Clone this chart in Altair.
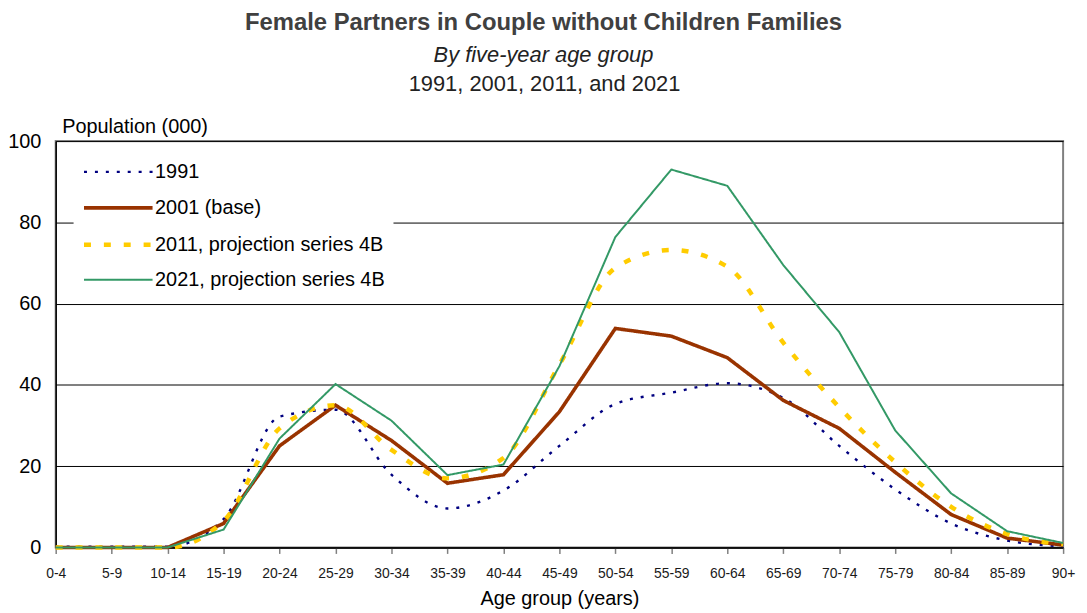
import altair as alt
import pandas as pd

ages = ["0-4", "5-9", "10-14", "15-19", "20-24", "25-29", "30-34", "35-39", "40-44",
        "45-49", "50-54", "55-59", "60-64", "65-69", "70-74", "75-79", "80-84", "85-89", "90+"]

series_names = ["1991", "2001 (base)", "2011, projection series 4B", "2021, projection series 4B"]

v1991 = [0.2, 0.2, 0.2, 7.0, 32.2, 33.9, 17.9, 9.6, 14.0, 25.0, 35.3, 38.1, 40.4, 36.8, 25.0, 14.3, 5.9, 1.7, 0.3]
v2001 = [0.0, 0.0, 0.0, 5.9, 25.0, 35.0, 26.3, 15.8, 17.9, 33.4, 53.9, 52.0, 46.7, 36.2, 29.3, 18.5, 8.1, 2.3, 0.6]
v2011 = [0.0, 0.0, 0.0, 6.5, 29.3, 35.0, 24.0, 17.0, 22.0, 45.0, 68.8, 73.2, 69.1, 50.4, 34.5, 21.0, 10.0, 3.3, 0.8]
v2021 = [0.0, 0.0, 0.0, 4.4, 26.8, 40.2, 31.2, 17.8, 20.4, 44.6, 76.4, 93.0, 89.0, 69.5, 53.0, 28.8, 13.3, 4.0, 1.1]

line_colors = ["#000080", "#993300", "#FFCC00", "#339966"]
line_dashes = [[3, 8], [1, 0], [7, 13], [1, 0]]
line_widths = [2.4, 3.6, 4.5, 2.0]
interps = ["monotone", "linear", "monotone", "linear"]

title_text = "Female Partners in Couple without Children Families"
subtitle_text = "By five-year age group"
years_text = "1991, 2001, 2011, and 2021"

rows = []
for name, vals in zip(series_names, [v1991, v2001, v2011, v2021]):
    for a, v in zip(ages, vals):
        rows.append({"age": a, "series": name, "value": v})
df = pd.DataFrame(rows)

SANS = "Liberation Sans, Arial, sans-serif"

x_enc = alt.X(
    "age:N", sort=ages,
    scale=alt.Scale(type="point", padding=0),
    axis=alt.Axis(
        title="Age group (years)", labelAngle=0, ticks=True, tickSize=6,
        tickColor="#808080", tickWidth=1.5, domainColor="#000000", domainWidth=1.5,
        labelFont=SANS, labelFontSize=14, labelColor="#1a1a1a", labelPadding=13,
        titleFont=SANS, titleFontSize=20, titleFontWeight="normal", titleColor="#000000",
        titlePadding=8, grid=False, labelOverlap=False,
    ),
)
y_enc = alt.Y(
    "value:Q",
    scale=alt.Scale(domain=[0, 100], nice=False),
    axis=alt.Axis(
        values=[0, 20, 40, 60, 80, 100], grid=True, gridColor="#000000", gridWidth=1,
        ticks=False, domainColor="#000000", domainWidth=1.5,
        labelFont=SANS, labelFontSize=20, labelColor="#000000", labelPadding=15,
        title="Population (000)", titleAngle=0, titleAlign="left", titleBaseline="middle",
        titleX=6, titleY=-15, titleFont=SANS, titleFontSize=20, titleFontWeight="normal",
        titleColor="#000000",
    ),
)
color_enc = alt.Color(
    "series:N",
    scale=alt.Scale(domain=series_names, range=line_colors),
    legend=alt.Legend(
        title=None, orient="none", legendX=18, legendY=10, fillColor="white",
        padding=8, symbolType="M-1,0H5", symbolSize=529, labelFont=SANS,
        labelFontSize=20, labelColor="#000000", rowPadding=12.7, labelOffset=46,
        labelLimit=0,
    ),
)
dash_enc = alt.StrokeDash("series:N", scale=alt.Scale(domain=series_names, range=line_dashes), legend=None)
width_enc = alt.StrokeWidth(
    "series:N",
    scale=alt.Scale(type="ordinal", domain=series_names, range=line_widths),
    legend=None,
)

layers = []
for name, interp in zip(series_names, interps):
    layers.append(
        alt.Chart(df).transform_filter(alt.datum.series == name)
        .mark_line(interpolate=interp)
        .encode(x=x_enc, y=y_enc, color=color_enc, strokeDash=dash_enc, strokeWidth=width_enc)
    )

years_df = pd.DataFrame({"t": [years_text]})
years_layer = alt.Chart(years_df).mark_text(
    font=SANS, fontSize=22, color="#222222", align="center", baseline="middle"
).encode(x=alt.value(492), y=alt.value(-57), text="t:N")

chart = alt.layer(*layers, years_layer).resolve_scale(
    color="shared", strokeDash="shared", strokeWidth="shared"
).properties(
    width=1014, height=409,
    autosize=alt.AutoSizeParams(type="none"),
    padding={"left": 48, "top": 132, "right": 16, "bottom": 63},
    title=alt.Title(
        text=title_text, subtitle=subtitle_text, anchor="middle", dx=-16, offset=8,
        font=SANS, fontSize=24, fontWeight="bold", color="#404040",
        subtitleFont=SANS, subtitleFontSize=22, subtitleFontStyle="italic",
        subtitleColor="#222222", subtitlePadding=10,
    ),
).configure_view(stroke="#808080", strokeWidth=2)

chart.save("out.html", embed_options={"renderer": "svg", "actions": False})
